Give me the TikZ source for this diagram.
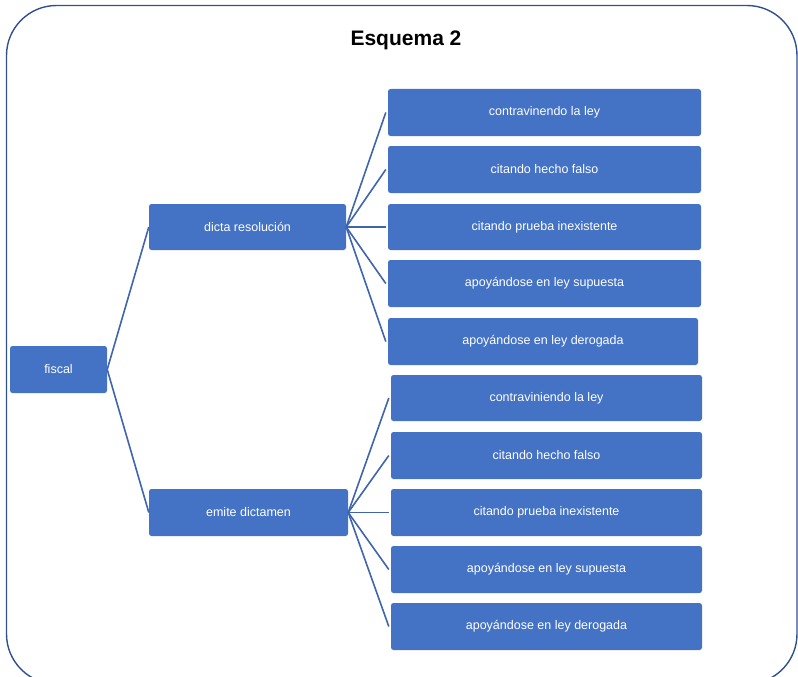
\documentclass[tikz,border=0pt]{standalone}
\usepackage{fontspec}
\setmainfont{Liberation Sans}
\definecolor{boxblue}{HTML}{4472C4}
\definecolor{lineblue}{HTML}{3F65AD}
\definecolor{framecol}{HTML}{2F528F}
\begin{document}
\begin{tikzpicture}[x=1pt,y=-1pt,
  item/.style={fill=boxblue, draw=none, rounded corners=2.5pt, text=white,
    font=\fontsize{12.5}{14}\selectfont, inner sep=0pt},
  link/.style={draw=lineblue, line width=1.6pt}]
\useasboundingbox (0,0) rectangle (798,677);
\draw[framecol, line width=1.4pt, rounded corners=50pt] (6.5,5.5) rectangle (797,684);
\node[font=\fontsize{21}{24}\bfseries] (title) at (406,40) {Esquema 2};
% boxes: corners in px
\newcommand{\boxat}[6]{\node[item, minimum width=#4-#2, minimum height=#5-#3] (#1) at ({(#2+#4)/2},{(#3+#5)/2}) {#6};}
\boxat{fiscal}{10}{346}{107}{393}{fiscal}
\boxat{dicta}{149}{204}{346}{250}{dicta resolución}
\boxat{emite}{149}{489}{348}{536}{emite dictamen}
\boxat{a1}{388}{89}{701}{136}{contravinendo la ley}
\boxat{a2}{388}{146}{701}{193}{citando hecho falso}
\boxat{a3}{388}{204}{701}{250}{citando prueba inexistente}
\boxat{a4}{388}{260}{701}{307}{apoyándose en ley supuesta}
\boxat{a5}{388}{318}{698}{365}{apoyándose en ley derogada}
\boxat{b1}{391}{375}{702}{421}{contraviniendo la ley}
\boxat{b2}{391}{432}{702}{479}{citando hecho falso}
\boxat{b3}{391}{489}{702}{536}{citando prueba inexistente}
\boxat{b4}{391}{546}{702}{593}{apoyándose en ley supuesta}
\boxat{b5}{391}{603}{702}{650}{apoyándose en ley derogada}
\draw[link] (fiscal.east) -- (dicta.west);
\draw[link] (fiscal.east) -- (emite.west);
\foreach \c in {a1,a2,a3,a4,a5} \draw[link] (dicta.east) -- ([xshift=-2pt]\c.west);
\foreach \c in {b1,b2,b3,b4,b5} \draw[link] (emite.east) -- ([xshift=-2pt]\c.west);
\end{tikzpicture}
\end{document}
